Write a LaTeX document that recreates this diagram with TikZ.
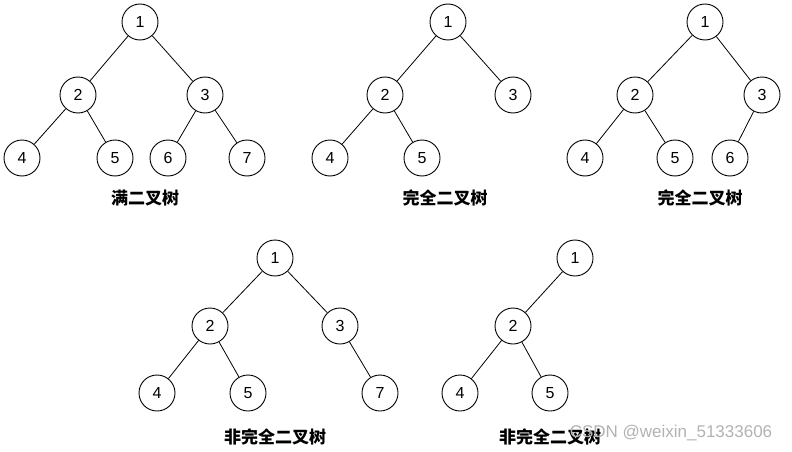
\documentclass[tikz,border=0pt]{standalone}
\usepackage{fontspec}
\setmainfont{Liberation Sans}
\newfontfamily\cjk{Noto Sans CJK SC}
\begin{document}
\begin{tikzpicture}[x=1pt,y=-1pt,
  nd/.style={circle,draw,line width=0.9pt,minimum size=36pt,inner sep=0pt,font=\fontsize{16}{16}\selectfont},
  ed/.style={line width=0.8pt},
  lbl/.style={font=\cjk\bfseries\fontsize{17}{17}\selectfont}]
\useasboundingbox (0,0) rectangle (792,452);
% tree 1
\node[nd] (a1) at (140,22) {1};
\node[nd] (a2) at (78,95) {2};
\node[nd] (a3) at (205,95) {3};
\node[nd] (a4) at (22,158) {4};
\node[nd] (a5) at (115,158) {5};
\node[nd] (a6) at (168,158) {6};
\node[nd] (a7) at (247,158) {7};
\draw[ed] (a1)--(a2) (a1)--(a3) (a2)--(a4) (a2)--(a5) (a3)--(a6) (a3)--(a7);
\node[lbl] (la) at (145,198) {满二叉树};
% tree 2
\node[nd] (b1) at (448,22) {1};
\node[nd] (b2) at (385,95) {2};
\node[nd] (b3) at (513,95) {3};
\node[nd] (b4) at (330,158) {4};
\node[nd] (b5) at (422,158) {5};
\draw[ed] (b1)--(b2) (b1)--(b3) (b2)--(b4) (b2)--(b5);
\node[lbl] (lb) at (445,198) {完全二叉树};
% tree 3
\node[nd] (c1) at (705,22) {1};
\node[nd] (c2) at (635,95) {2};
\node[nd] (c3) at (762,95) {3};
\node[nd] (c4) at (585,158) {4};
\node[nd] (c5) at (675,158) {5};
\node[nd] (c6) at (730,158) {6};
\draw[ed] (c1)--(c2) (c1)--(c3) (c2)--(c4) (c2)--(c5) (c3)--(c6);
\node[lbl] (lc) at (700,198) {完全二叉树};
% tree 4
\node[nd] (d1) at (275,258) {1};
\node[nd] (d2) at (210,326) {2};
\node[nd] (d3) at (340,326) {3};
\node[nd] (d4) at (157,393) {4};
\node[nd] (d5) at (248,393) {5};
\node[nd] (d7) at (380,393) {7};
\draw[ed] (d1)--(d2) (d1)--(d3) (d2)--(d4) (d2)--(d5) (d3)--(d7);
\node[lbl] (ld) at (275,437) {非完全二叉树};
% tree 5
\node[nd] (e1) at (575,258) {1};
\node[nd] (e2) at (513,326) {2};
\node[nd] (e4) at (460,393) {4};
\node[nd] (e5) at (550,393) {5};
\draw[ed] (e1)--(e2) (e2)--(e4) (e2)--(e5);
\node[lbl] (le) at (550,437) {非完全二叉树};
\node[font=\fontsize{17}{17}\selectfont,text=gray!60] (wm) at (671,433) {CSDN @weixin\_51333606};
\end{tikzpicture}
\end{document}
